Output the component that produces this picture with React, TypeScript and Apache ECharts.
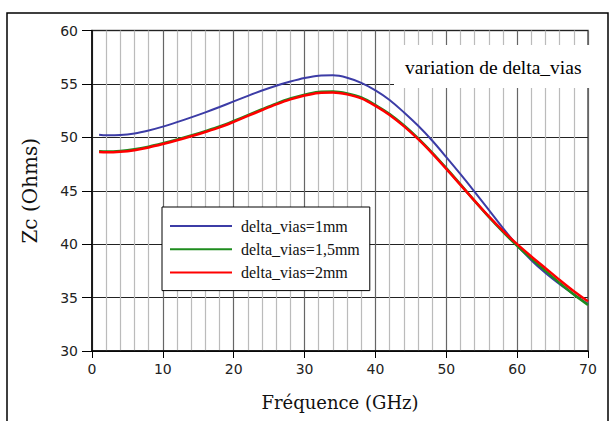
import React, { useEffect, useRef } from "react";
import * as echarts from "echarts";

const freq = [1, 2, 4, 6, 8, 10, 12, 14, 16, 18, 20, 22, 24, 26, 28, 30, 32, 34, 36, 38, 40, 42, 44, 46, 48, 50, 52, 54, 56, 58, 60, 62, 64, 66, 68, 70];
const zc1mm = [50.25, 50.2, 50.22, 50.36, 50.64, 51.0, 51.42, 51.87, 52.34, 52.84, 53.36, 53.88, 54.38, 54.83, 55.22, 55.55, 55.77, 55.8, 55.58, 55.1, 54.4, 53.5, 52.35, 51.1, 49.7, 48.15, 46.55, 44.9, 43.2, 41.5, 39.9, 38.5, 37.3, 36.25, 35.3, 34.4];
const zc15mm = [48.7, 48.68, 48.73, 48.88, 49.13, 49.45, 49.8, 50.18, 50.58, 51.01, 51.53, 52.08, 52.63, 53.16, 53.63, 54.0, 54.24, 54.28, 54.1, 53.73, 53.03, 52.18, 51.13, 49.93, 48.58, 47.12, 45.6, 44.05, 42.55, 41.15, 39.85, 38.65, 37.5, 36.37, 35.28, 34.3];
const zc2mm = [48.62, 48.6, 48.65, 48.8, 49.05, 49.37, 49.72, 50.1, 50.5, 50.93, 51.45, 52.0, 52.55, 53.08, 53.55, 53.92, 54.16, 54.2, 54.02, 53.65, 52.95, 52.1, 51.05, 49.85, 48.5, 47.05, 45.55, 44.05, 42.6, 41.25, 40.0, 38.85, 37.75, 36.65, 35.6, 34.65];

const seriesNames = ["delta_vias=1mm", "delta_vias=1,5mm", "delta_vias=2mm"];
const seriesColors = ["#3c3ca6", "#1e8c1e", "#ff0000"];

export default function App() {
  const ref = useRef<HTMLDivElement>(null);
  useEffect(() => {
    if (!ref.current) return;
    const chart = echarts.init(ref.current, null, { renderer: "svg" });
    const sets = [zc1mm, zc15mm, zc2mm];
    chart.setOption({
      animation: false,
      backgroundColor: "#fff",
      title: {
        text: "variation de delta_vias",
        left: 394,
        top: 45,
        backgroundColor: "#fff",
        padding: [12, 9, 11, 11],
        textStyle: {
          fontFamily: "Liberation Serif",
          fontSize: 19.5,
          fontWeight: "normal",
          color: "#000",
          lineHeight: 20,
        },
        z: 10,
      },
      legend: {
        left: 162,
        top: 207,
        orient: "vertical",
        backgroundColor: "#fff",
        borderColor: "#000",
        borderWidth: 1,
        padding: [11, 10, 10, 8],
        itemWidth: 62,
        itemHeight: 2,
        itemGap: 7.3,
        icon: "rect",
        textStyle: {
          fontFamily: "Liberation Serif",
          fontSize: 16,
          color: "#111",
          lineHeight: 16,
          padding: [0, 0, 0, 4],
        },
        data: seriesNames,
      },
      graphic: [
        {
          type: "rect",
          shape: { x: 7, y: 13, width: 601, height: 420 },
          style: { fill: "none", stroke: "#000", lineWidth: 1.5 },
          silent: true,
        },
      ],
      grid: {
        left: 92,
        right: 21,
        top: 30.5,
        bottom: 70,
        show: true,
        borderColor: "#555",
        borderWidth: 1.5,
        backgroundColor: "transparent",
      },
      xAxis: {
        type: "value",
        min: 0,
        max: 70,
        interval: 10,
        name: "Fréquence (GHz)",
        nameLocation: "middle",
        nameGap: 42,
        nameTextStyle: { fontFamily: "DejaVu Serif", fontSize: 18, color: "#111" },
        axisLine: { show: true, lineStyle: { color: "#000", width: 1.5 } },
        axisTick: { show: true, length: 7, lineStyle: { color: "#000" } },
        axisLabel: { fontFamily: "DejaVu Sans", fontSize: 14, color: "#222", margin: 11 },
        splitLine: { show: true, lineStyle: { color: "#666", width: 1.2 } },
        minorTick: { show: false, splitNumber: 5 },
        minorSplitLine: { show: true, lineStyle: { color: "#bbb", width: 1.2 } },
      },
      yAxis: {
        type: "value",
        min: 30,
        max: 60,
        interval: 5,
        name: "Zc (Ohms)",
        nameLocation: "middle",
        nameGap: 52,
        nameTextStyle: { fontFamily: "DejaVu Serif", fontSize: 20, color: "#111" },
        axisLine: { show: true, lineStyle: { color: "#000", width: 1.5 } },
        axisTick: { show: true, length: 10, lineStyle: { color: "#000" } },
        axisLabel: { fontFamily: "DejaVu Sans", fontSize: 14, color: "#222", margin: 14 },
        splitLine: { show: true, lineStyle: { color: "#222", width: 1.2 } },
      },
      series: seriesNames.map((name, i) => ({
        name,
        type: "line",
        smooth: 0.3,
        showSymbol: false,
        color: seriesColors[i],
        lineStyle: { color: seriesColors[i], width: i === 0 ? 2 : 2.5 },
        data: freq.map((f, j) => [f, sets[i][j]]),
      })),
    });
    return () => chart.dispose();
  }, []);
  return (
    <div
      ref={ref}
      style={{ position: "fixed", left: 0, top: 0, width: 609, height: 421 }}
    />
  );
}
